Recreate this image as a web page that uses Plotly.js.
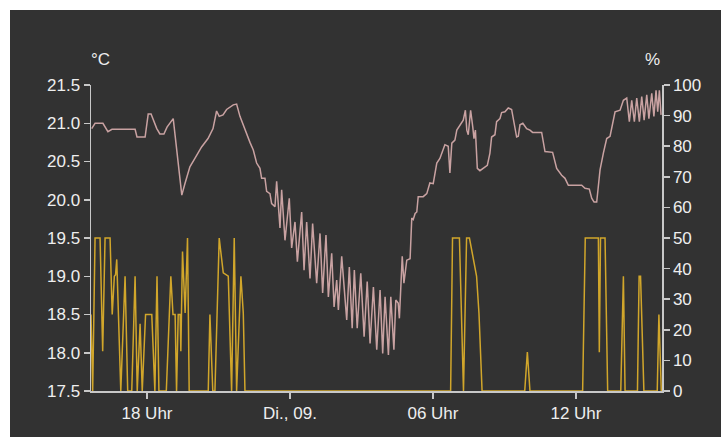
<!DOCTYPE html>
<html>
<head>
<meta charset="utf-8">
<script src="https://cdn.plot.ly/plotly-3.0.1.min.js"></script>
<style>
html,body{margin:0;padding:0;background:#ffffff;}
#chart{position:absolute;left:10px;top:10px;width:711px;height:427px;}
</style>
</head>
<body>
<div id="chart"></div>
<script>
// hours relative to midnight (Di., 09.)
const tempHours = [-8.32,-8.18,-7.85,-7.64,-7.47,-6.50,-6.42,-6.08,-5.95,-5.83,-5.59,-5.46,-5.29,-5.16,-4.90,-4.54,-4.41,-4.20,-3.99,-3.71,-3.44,-3.23,-3.08,-2.97,-2.81,-2.66,-2.38,-2.24,-2.10,-1.89,-1.68,-1.54,-1.40,-1.26,-1.19,-1.05,-0.98,-0.84,-0.77,-0.63,
-0.56,-0.42,-0.35,-0.21,-0.03,0.07,0.21,0.31,0.49,0.59,0.70,0.84,0.95,1.12,1.26,1.37,1.51,1.61,1.75,1.85,1.96,2.03,2.17,2.38,2.49,2.61,2.70,2.82,2.97,3.11,3.24,3.36,3.50,3.64,3.78,3.89,3.99,4.13,4.23,4.36,4.44,4.54,4.59,4.71,4.78,4.90,5.04,5.11,5.17,5.25,5.32,5.38,5.59,5.74,5.87,6.01,6.16,6.29,6.41,6.50,6.64,6.71,6.79,6.92,7.00,7.13,7.27,7.36,7.42,7.48,7.58,7.67,7.72,7.78,7.86,7.97,8.11,8.28,8.39,8.46,8.60,8.67,8.81,8.88,9.02,9.16,9.30,9.40,9.51,9.58,9.65,9.77,9.93,10.07,10.18,10.56,10.70,11.02,11.19,11.40,11.54,11.68,12.24,12.38,12.56,12.66,12.76,12.87,13.01,13.15,13.29,13.43,13.57,13.64,13.85,13.99,14.13,14.24,14.34,14.45,14.55,14.66,14.76,14.86,14.97,15.06,15.18,15.27,15.36,15.43,15.50,15.57];
const tempValues = [20.93,21.00,21.00,20.89,20.92,20.92,20.82,20.82,21.12,21.12,20.93,20.86,20.86,20.95,21.06,20.06,20.21,20.43,20.54,20.69,20.80,20.93,21.16,21.09,21.11,21.18,21.24,21.25,21.09,20.91,20.75,20.65,20.48,20.41,20.28,20.28,20.11,20.08,19.95,19.91,
20.24,19.63,20.13,19.47,20.02,19.37,19.71,19.19,19.84,19.08,19.71,18.97,19.69,18.91,19.56,18.78,19.54,18.73,19.30,18.60,18.95,18.56,19.26,18.43,19.12,18.32,19.08,18.32,19.04,18.21,18.93,18.12,18.86,18.04,18.82,17.99,18.73,17.97,18.73,18.04,18.69,18.65,18.45,19.26,18.91,19.21,19.23,19.76,19.74,19.82,19.84,20.04,20.04,20.08,20.22,20.21,20.48,20.54,20.63,20.72,20.70,20.35,20.74,20.78,20.91,20.98,21.04,21.17,20.91,20.85,21.17,20.95,20.80,20.91,20.41,20.38,20.41,20.45,20.61,20.82,20.85,21.02,21.06,21.14,21.15,21.20,21.18,21.00,20.82,20.83,20.98,21.00,20.93,20.91,20.88,20.88,20.63,20.62,20.41,20.32,20.28,20.19,20.19,20.15,20.14,20.02,19.97,19.97,20.39,20.61,20.80,20.83,21.04,21.15,21.17,21.30,21.33,21.02,21.30,21.02,21.33,21.02,21.35,21.04,21.37,21.06,21.39,21.09,21.43,21.15,21.43,21.11];

const valveHours = [-8.35,-8.28,-8.18,-7.97,-7.86,-7.76,-7.55,-7.46,-7.37,-7.32,-7.27,-7.10,-6.92,-6.81,-6.64,-6.50,-6.41,-6.29,-6.20,-6.06,-5.80,-5.67,-5.58,-5.50,-5.19,-5.00,-4.91,-4.82,-4.76,-4.69,-4.61,-4.58,-4.51,-4.40,-4.30,-4.23,-3.43,-3.36,-3.24,-3.15,-2.97,-2.80,-2.59,-2.45,-2.34,-2.24,-2.06,-1.96,-1.89,
6.74,6.82,7.11,7.28,7.41,7.53,7.83,7.93,8.06,8.14,8.34,9.85,9.96,10.07,12.28,12.39,12.94,12.98,13.03,13.22,13.33,13.88,13.99,14.06,14.58,14.65,14.71,14.85,15.41,15.48,15.58,15.61];
const valveValues = [25,0,50,50,13,50,50,25,37.5,38,43,0,37.5,0,0,37.5,0,22,0,25,25,0,37.5,0,0,37.5,25,25,0,25,25,13,45.6,25.5,50,0,0,25,0,0,50,38.6,37.5,0,50,0,37.5,25.5,0,
0,50,50,0,50,50,37.5,25.4,0,0,0,0,12.7,0,0,50,50,12.7,50,50,0,0,37.5,0,0,37.5,37.5,0,0,25,0,0];

const tickVals = [-6, 0, 6, 12];
const tickText = ['18 Uhr', 'Di., 09.', '06 Uhr', '12 Uhr'];

const fontFam = '"Liberation Sans", Arial, sans-serif';
const axisCol = '#c8c8c8';
const textCol = '#eeeeee';

const traces = [
  {x: tempHours, y: tempValues, type: 'scatter', mode: 'lines', yaxis: 'y',
   line: {color: '#c9a2a2', width: 1.5}, hoverinfo: 'skip'},
  {x: valveHours, y: valveValues, type: 'scatter', mode: 'lines', yaxis: 'y2',
   line: {color: '#e2b22a', width: 1.5}, opacity: 0.9, hoverinfo: 'skip'}
];

const layout = {
  width: 711, height: 427,
  margin: {l: 81, r: 59, t: 75, b: 46, pad: 0},
  paper_bgcolor: '#323232', plot_bgcolor: '#323232',
  showlegend: false,
  font: {family: fontFam, size: 17, color: textCol},
  xaxis: {range: [-8.35, 15.61], tickvals: tickVals, ticktext: tickText,
    showgrid: false, zeroline: false, showline: true, linecolor: axisCol, linewidth: 1.5,
    ticks: 'outside', ticklen: 6, tickcolor: axisCol, tickwidth: 1.5,
    tickfont: {family: fontFam, size: 17, color: textCol}},
  yaxis: {range: [17.5, 21.5], tickvals: [17.5,18,18.5,19,19.5,20,20.5,21,21.5],
    tickformat: '.1f', showgrid: false, zeroline: false, showline: true, linecolor: axisCol, linewidth: 1.5,
    ticks: 'outside', ticklen: 6, tickcolor: axisCol, tickwidth: 1.5,
    tickfont: {family: fontFam, size: 17, color: textCol}},
  yaxis2: {range: [0, 100], tickvals: [0,10,20,30,40,50,60,70,80,90,100], overlaying: 'y', side: 'right',
    showgrid: false, zeroline: false, showline: true, linecolor: axisCol, linewidth: 1.5,
    ticks: 'outside', ticklen: 6, tickcolor: axisCol, tickwidth: 1.5,
    tickfont: {family: fontFam, size: 17, color: textCol}},
  annotations: [
    {text: '°C', xref: 'paper', yref: 'paper', x: 0, y: 1, xanchor: 'left', yanchor: 'bottom',
     yshift: 14, xshift: -2, showarrow: false, font: {family: fontFam, size: 17, color: textCol}},
    {text: '%', xref: 'paper', yref: 'paper', x: 1, y: 1, xanchor: 'right', yanchor: 'bottom',
     yshift: 14, xshift: 0, showarrow: false, font: {family: fontFam, size: 17, color: textCol}}
  ]
};

Plotly.newPlot('chart', traces, layout, {staticPlot: true, displayModeBar: false});
</script>
</body>
</html>
